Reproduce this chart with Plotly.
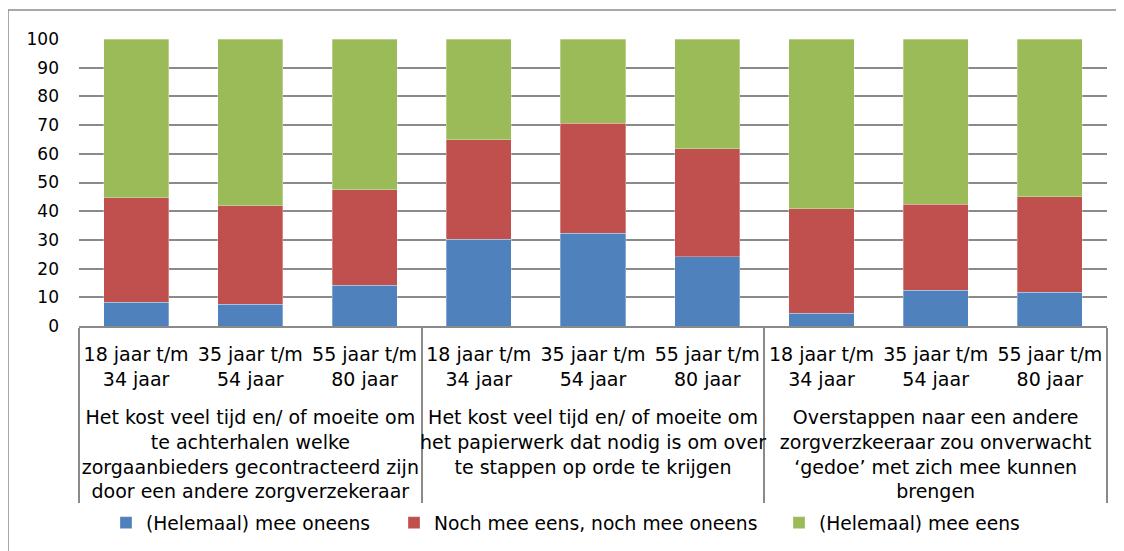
import plotly.graph_objects as go

statements = [
    "Het kost veel tijd en/ of moeite om<br>te achterhalen welke<br>zorgaanbieders gecontracteerd zijn<br>door een andere zorgverzekeraar",
    "Het kost veel tijd en/ of moeite om<br>het papierwerk dat nodig is om over<br>te stappen op orde te krijgen",
    "Overstappen naar een andere<br>zorgverzkeeraar zou onverwacht<br>‘gedoe’ met zich mee kunnen<br>brengen",
]
age_groups = ["18 jaar t/m<br>34 jaar<br>\u00a0", "35 jaar t/m<br>54 jaar<br>\u00a0", "55 jaar t/m<br>80 jaar<br>\u00a0"]

oneens = [8.2, 7.5, 14.2, 30.2, 32.3, 24.2, 4.4, 12.4, 11.8]
neutraal = [36.5, 34.4, 33.2, 34.7, 38.3, 37.6, 36.5, 30.0, 33.3]
eens = [55.3, 58.1, 52.6, 35.1, 29.4, 38.2, 59.1, 57.6, 54.9]

series_names = ["(Helemaal) mee oneens", "Noch mee eens, noch mee oneens", "(Helemaal) mee eens"]
colors = ["#4F81BD", "#C0504D", "#9BBB59"]

outer = [s for s in statements for _ in age_groups]
inner = [a for _ in statements for a in age_groups]

FONT = "DejaVu Sans"

# page body has an 8px margin, so the figure is offset by 8px
OFF = 8
W, H = 1124 - OFF, 551 - OFF
L, R, T, B = 79 - OFF, 17, 39 - OFF, 225
pw, ph = W - L - R, H - T - B

legend_ids = ["legend", "legend2", "legend3"]
legend_left_px = [106, 394, 779]   # page x of each legend entry's left edge
legend_y = (T + ph - (523 - OFF)) / ph

fig = go.Figure()
for name, vals, col, lid in zip(series_names, [oneens, neutraal, eens], colors, legend_ids):
    fig.add_trace(go.Bar(
        x=[outer, inner], y=vals, name=name, legend=lid, showlegend=True,
        marker=dict(color=col, line=dict(color="rgba(255,255,255,0.5)", width=0.6)),
    ))

legends = {}
for lid, px in zip(legend_ids, legend_left_px):
    legends[lid] = dict(orientation="h", x=(px - OFF - L) / pw, xanchor="left",
                        y=legend_y, yanchor="middle", bgcolor="rgba(0,0,0,0)",
                        font=dict(family=FONT, size=18.7), itemwidth=30)

fig.update_layout(
    width=W, height=H, showlegend=True,
    barmode="stack", bargap=0.43,
    margin=dict(l=L, r=R, t=T, b=B, autoexpand=False),
    plot_bgcolor="white", paper_bgcolor="white",
    font=dict(family=FONT, size=19, color="#000000"),
    shapes=[dict(type="rect", xref="paper", yref="paper",
                 x0=(8 - OFF - L) / pw, x1=(W + 10 - L) / pw,
                 y0=(T + ph - (H + 10)) / ph, y1=(T + ph - (10 - OFF)) / ph,
                 line=dict(color="#8c8c8c", width=1.5), layer="below")],
    **legends,
)
fig.update_yaxes(range=[0, 100], dtick=10, showgrid=True, gridcolor="#8a8a8a", gridwidth=2,
                 zeroline=False, showline=False, ticks="", ticklabelstandoff=19,
                 tickfont=dict(family=FONT, size=17))
fig.update_xaxes(showline=True, linecolor="#8a8a8a", linewidth=2, showdividers=True,
                 dividercolor="#8a8a8a", dividerwidth=2, ticks="", tickangle=0,
                 ticklabelstandoff=10,
                 tickfont=dict(family=FONT, size=19))

fig.write_html("out.html")
